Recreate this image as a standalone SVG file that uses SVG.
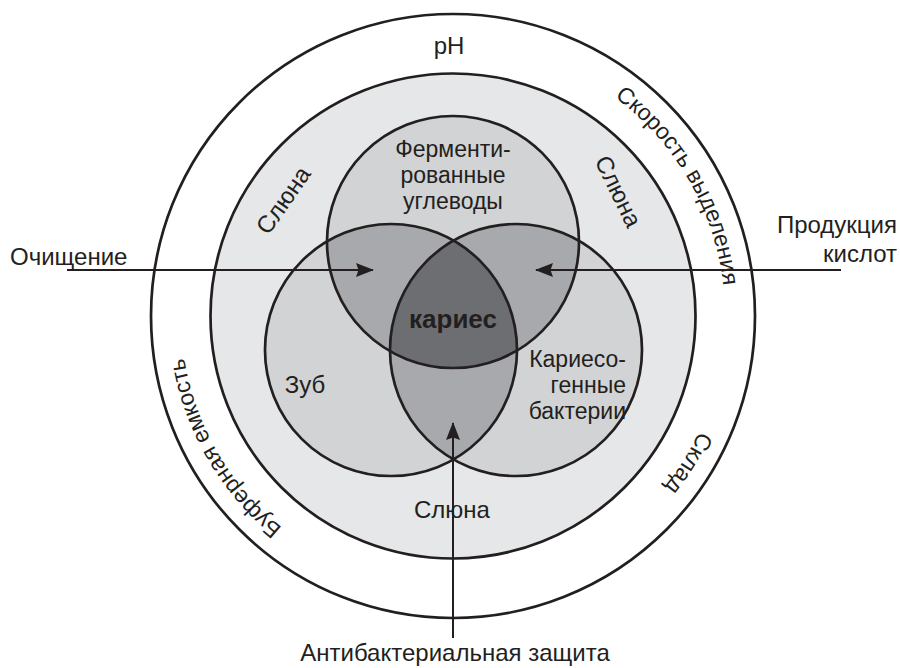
<svg xmlns="http://www.w3.org/2000/svg" width="900" height="668" viewBox="0 0 900 668">
<style>
.ln{stroke:#231f20;stroke-width:2.7;}
.lbl{font-family:"Liberation Sans",Arial,sans-serif;font-size:24px;fill:#231f20;}
.sm{font-size:23px;}
.conn{stroke:#231f20;stroke-width:2;fill:none;}
</style>
<defs>
<marker id="arr" viewBox="0 0 18 14" refX="17" refY="7" markerWidth="18" markerHeight="14" markerUnits="userSpaceOnUse" orient="auto">
<path d="M0,0 L18,7 L0,14 L2.5,7 z" fill="#231f20"/>
</marker>
<clipPath id="cT"><circle cx="453" cy="242" r="126"/></clipPath>
<clipPath id="cL"><circle cx="391" cy="350" r="126"/></clipPath>
<path id="pSpeed" d="M360.0,60.4 A272,272 0 0 1 627.8,524.4"/>
<path id="pStore" d="M635.0,113.9 A272,272 0 0 1 351.1,568.2"/>
<path id="pBuf" d="M546.0,571.6 A272,272 0 0 1 278.2,107.6"/>
</defs>

<g id="ring-outer">
<circle cx="453" cy="316" r="302" fill="#ffffff" class="ln"/>
</g>
<g id="ring-saliva">
<circle cx="453" cy="316" r="242.5" fill="#e6e7e8" class="ln"/>
</g>

<g id="venn-fills">
<circle cx="453" cy="242" r="126" fill="#d1d3d4"/>
<circle cx="391" cy="350" r="126" fill="#d1d3d4"/>
<circle cx="516" cy="350" r="126" fill="#d1d3d4"/>
<g clip-path="url(#cT)">
<circle cx="391" cy="350" r="126" fill="#a7a9ac"/>
<circle cx="516" cy="350" r="126" fill="#a7a9ac"/>
</g>
<g clip-path="url(#cL)">
<circle cx="516" cy="350" r="126" fill="#a7a9ac"/>
</g>
<g clip-path="url(#cT)"><g clip-path="url(#cL)">
<circle id="caries-area" cx="516" cy="350" r="126" fill="#6d6e71"/>
</g></g>
</g>

<g id="node-carbs">
<circle cx="453" cy="242" r="126" class="ln" fill="none"/>
</g>
<g id="node-tooth">
<circle cx="391" cy="350" r="126" class="ln" fill="none"/>
</g>
<g id="node-bacteria">
<circle cx="516" cy="350" r="126" class="ln" fill="none"/>
</g>

<g id="connectors">
<line x1="67" y1="270" x2="373" y2="270" class="conn" marker-end="url(#arr)"/>
<line x1="841" y1="270" x2="536" y2="270" class="conn" marker-end="url(#arr)"/>
<line x1="453" y1="638" x2="453" y2="423" class="conn" marker-end="url(#arr)"/>
</g>

<g id="labels">
<text class="lbl" x="449" y="54" text-anchor="middle">pH</text>
<text class="lbl sm" text-anchor="middle"><textPath href="#pSpeed" startOffset="50%">Скорость выделения</textPath></text>
<text class="lbl sm" text-anchor="middle"><textPath href="#pStore" startOffset="50%">Склад</textPath></text>
<text class="lbl sm" text-anchor="middle"><textPath href="#pBuf" startOffset="50%">Буферная емкость</textPath></text>
<text class="lbl" text-anchor="middle" transform="translate(290,205) rotate(-55)">Слюна</text>
<text class="lbl" text-anchor="middle" transform="translate(611,195) rotate(64)">Слюна</text>
<text class="lbl" x="452" y="518" text-anchor="middle">Слюна</text>
<text class="lbl sm" text-anchor="middle"><tspan x="453" y="157">Ферменти-</tspan><tspan x="453" y="183">рованные</tspan><tspan x="453" y="209">углеводы</tspan></text>
<text class="lbl" x="305" y="393" text-anchor="middle">Зуб</text>
<text class="lbl sm" text-anchor="end"><tspan x="626" y="367">Кариесо-</tspan><tspan x="626" y="393">генные</tspan><tspan x="626" y="419">бактерии</tspan></text>
<text class="lbl" x="453" y="328" text-anchor="middle" font-weight="bold" style="font-size:26px">кариес</text>
<text class="lbl" x="10" y="265">Очищение</text>
<text class="lbl" text-anchor="end"><tspan x="897" y="233">Продукция</tspan><tspan x="897" y="262">кислот</tspan></text>
<text class="lbl" x="455" y="661" text-anchor="middle">Антибактериальная защита</text>
</g>
</svg>
